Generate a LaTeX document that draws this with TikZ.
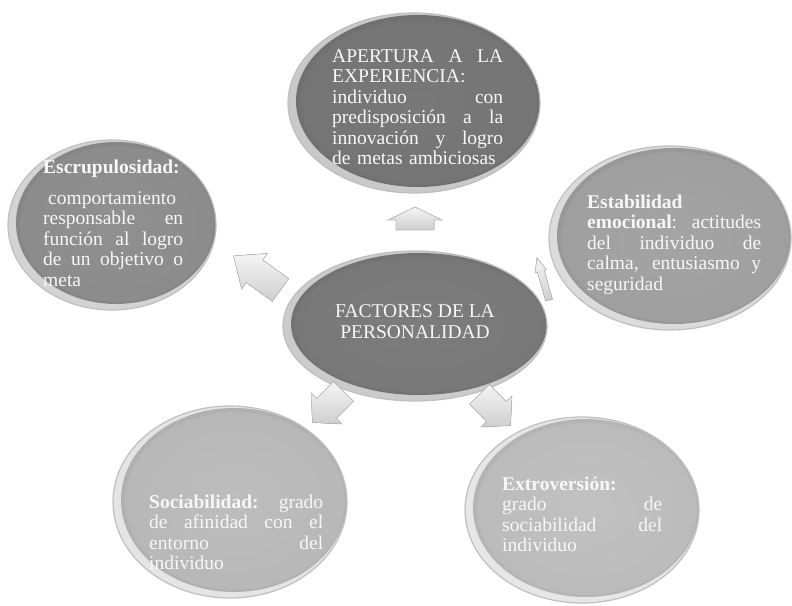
\documentclass[tikz,border=0pt]{standalone}
\usepackage{fontspec}
\setmainfont{Liberation Serif}
\usetikzlibrary{shapes.geometric}
\definecolor{cTop}{HTML}{787878}
\definecolor{cCen}{HTML}{7C7C7C}
\definecolor{cLeft}{HTML}{909090}
\definecolor{cRight}{HTML}{A4A4A4}
\definecolor{cBL}{HTML}{BDBDBD}
\definecolor{cBR}{HTML}{C1C1C1}
\definecolor{txtc}{HTML}{F7F7F7}
\tikzset{
  ell/.style={ellipse, inner sep=0, draw=white!75!black, line width=1.2pt},
  txt/.style={text=txtc, inner sep=0, anchor=north west, align=left,
    font=\fontsize{19.5}{20.5}\selectfont},
  arrowsty/.style={draw=gray!55, line width=0.6pt, top color=gray!8, bottom color=gray!38},
}
\newcommand{\jline}[2]{{\spaceskip=0pt\xspaceskip=0pt\makebox[#1][s]{#2}}}
\newcommand{\barrow}[6]{%
  \filldraw[arrowsty, shift={(#1)}, rotate=#2]
    (-#3/2,-#6/2) -- ({#3/2-#4},-#6/2) -- ({#3/2-#4},-#5/2) -- (#3/2,0)
    -- ({#3/2-#4},#5/2) -- ({#3/2-#4},#6/2) -- (-#3/2,#6/2) -- cycle;}
% glossy ellipse: name, x, y, width, height, colour
\newcommand{\glossy}[6]{%
  \begin{scope}
    \clip (#2,#3) ellipse ({#4/2} and {#5/2});
    \fill[#6!40!white] (#2,#3) ellipse ({#4/2} and {#5/2});
    \fill[#6!93!black] ({#2+4},{#3+2}) ellipse ({#4/2-4} and {#5/2-4});
    \shade[inner color=#6, outer color=#6!97!black] ({#2+5},{#3+1}) ellipse ({#4/2-7} and {#5/2-7});
  \end{scope}
  \node[ell, minimum width=#4pt, minimum height=#5pt] (#1) at (#2,#3) {};}
\begin{document}
\begin{tikzpicture}[x=1pt,y=1pt]
\useasboundingbox (0,0) rectangle (792,605);
% ellipses
\glossy{open}{414}{502}{252}{180}{cTop}
\glossy{escr}{112}{380}{208}{170}{cLeft}
\glossy{estab}{670}{367}{242}{184}{cRight}
\glossy{cen}{415}{279}{264}{150}{cCen}
\glossy{soc}{230}{103}{234}{192}{cBL}
\glossy{extr}{582}{95}{234}{186}{cBR}
% block arrows
\barrow{415,386.5}{90}{23}{13}{54}{38}
\barrow{257,332}{144}{58}{26}{44}{28}
\barrow{543,326}{106}{44}{14}{12}{7}
\barrow{328,198}{-135}{44}{20}{44}{28}
\barrow{495,195}{-45}{44}{20}{44}{28}
% texts
\node[txt, text width=171pt] (topt) at (332,557.4) {\strut\jline{171pt}{APERTURA A LA}\\
EXPERIENCIA:\\
\jline{171pt}{individuo con}\\
\jline{171pt}{predisposición a la}\\
\jline{171pt}{innovación y logro}\\
de metas ambiciosas};
\node[txt, text width=142pt] (leftt) at (43,446.4) {\strut\textbf{Escrupulosidad:}\\[10.5pt]
\hspace*{5pt}comportamiento\\
\jline{140pt}{responsable en}\\
\jline{140pt}{función al logro}\\
\jline{140pt}{de un objetivo o}\\
meta};
\node[txt, text width=174pt] (rightt) at (587,411.4) {\strut\textbf{Estabilidad}\\
\jline{174pt}{\textbf{emocional}: actitudes}\\
\jline{174pt}{del individuo de}\\
\jline{174pt}{calma, entusiasmo y}\\
seguridad};
\node[txt, align=center, anchor=north] (cent) at (415,301.6) {\strut FACTORES DE LA\\PERSONALIDAD};
\node[txt, text width=174pt] (blt) at (149,111.4) {\strut\jline{174pt}{\textbf{Sociabilidad:} grado}\\
\jline{174pt}{de afinidad con el}\\
\jline{174pt}{entorno del}\\
individuo};
\node[txt, text width=160pt] (brt) at (502,129.4) {\strut\textbf{Extroversión:}\\
\jline{160pt}{grado de}\\
\jline{160pt}{sociabilidad del}\\
individuo};
\end{tikzpicture}
\end{document}
